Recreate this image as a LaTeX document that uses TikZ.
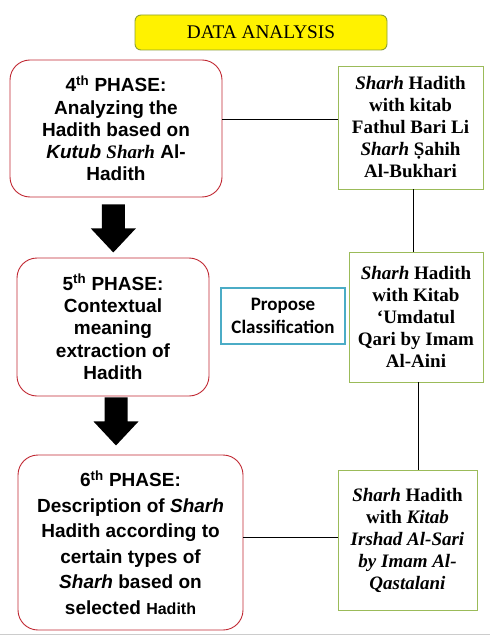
\documentclass[tikz,border=0pt]{standalone}
\usepackage{fontspec}
\setmainfont{Liberation Serif}
\newfontfamily\arialfont{Liberation Sans}
\newfontfamily\calibrifont{Carlito}
\usetikzlibrary{calc}
\definecolor{phasered}{RGB}{192,40,50}
\definecolor{kitabgreen}{RGB}{155,187,89}
\definecolor{titleolive}{RGB}{140,160,50}
\definecolor{proposeblue}{RGB}{75,172,198}
\tikzset{
	phase/.style={draw=phasered, line width=0.9pt, rounded corners=20pt, align=center, inner sep=0pt, font=\arialfont\bfseries\fontsize{19}{22.3}\selectfont},
	kitab/.style={draw=kitabgreen, line width=0.9pt, align=center, inner sep=0pt, font=\bfseries\fontsize{19}{22}\selectfont},
	link/.style={draw=black, line width=0.8pt}
}
\def\blockarrow#1{\fill[black] ($(#1)+(-11.5,0)$) -- ++(23,0) -- ++(0,24) -- ++(11,0) -- ($(#1)+(0,48)$) -- ++(-22.5,-24) -- ++(11,0) -- cycle;}

\begin{document}
\begin{tikzpicture}[x=1pt, y=-1pt]
			%%%%% START %%%%%
			\useasboundingbox (0,0) rectangle (490,636);
			
			\node[draw=titleolive, fill=yellow, line width=0.9pt, rounded corners=6pt, minimum width=252pt, minimum height=35pt, inner sep=0pt, font=\fontsize{19.3}{20}\selectfont] (title) at (261,32.5) {DATA ANALYSIS};
			
			\node[phase, minimum width=212pt, minimum height=137pt] (p4) at (116,128.5) {4\textsuperscript{th} PHASE:\\ Analyzing the\\ Hadith based on\\ \textit{Kutub} {\rmfamily\itshape\fontsize{19}{22.3}\selectfont Sharh} Al-\\ Hadith};
			\node[phase, minimum width=192pt, minimum height=138pt] (p5) at (113,327) {5\textsuperscript{th} PHASE:\\ Contextual\\ meaning\\ extraction of\\ Hadith};
			\node[phase, minimum width=225pt, minimum height=175pt, font=\arialfont\bfseries\fontsize{19}{25.5}\selectfont] (p6) at (130.5,542.5) {6\textsuperscript{th} PHASE:\\ Description of \textit{Sharh}\\ Hadith according to\\ certain types of\\ \textit{Sharh} based on\\ selected {\fontsize{16}{25.5}\selectfont Hadith}};
			
			\node[kitab, minimum width=145pt, minimum height=123pt] (r1) at (410.5,127.5) {\textit{Sharh} Hadith\\ with kitab\\ Fathul Bari Li\\ \textit{Sharh} Ṣahih\\ Al-Bukhari};
			\node[kitab, minimum width=134pt, minimum height=130pt] (r2) at (416,317) {\textit{Sharh} Hadith\\ with Kitab\\ ‘Umdatul\\ Qari by Imam\\ Al-Aini};
			\node[kitab, minimum width=139pt, minimum height=140pt] (r3) at (407.5,540) {\textit{Sharh} Hadith\\ with \textit{Kitab}\\ \textit{Irshad Al-Sari}\\ \textit{by Imam Al-}\\ \textit{Qastalani}};
			
			\node[draw=proposeblue, line width=1.8pt, minimum width=124pt, minimum height=56pt, inner sep=0pt, align=center, font=\calibrifont\bfseries\fontsize{19}{23}\selectfont] (propose) at (283,316) {Propose\\ Classification};
			
			\draw[link] ([yshift=9.5pt]p4.east) -- ([yshift=9.5pt]p4.east -| r1.west);
			\draw[link] ([xshift=2.5pt]r1.south) -- ([xshift=2.5pt]r1.south |- r2.north);
			\draw[link] ([xshift=2pt]r2.south) -- ([xshift=2pt]r2.south |- r3.north);
			\draw[link] ([yshift=5.5pt]p6.east) -- ([yshift=5.5pt]p6.east -| r3.west);
			
			\coordinate (a1) at ($(p4.south)+(-2.7,7)$);
			\coordinate (a2) at ($(p5.south)+(3,1)$);
			\blockarrow{a1}
			\blockarrow{a2}
			
			\draw[black!20, line width=1pt] (0,634) -- (490,634);
			%%%%% END %%%%%
\end{tikzpicture}
\end{document}
